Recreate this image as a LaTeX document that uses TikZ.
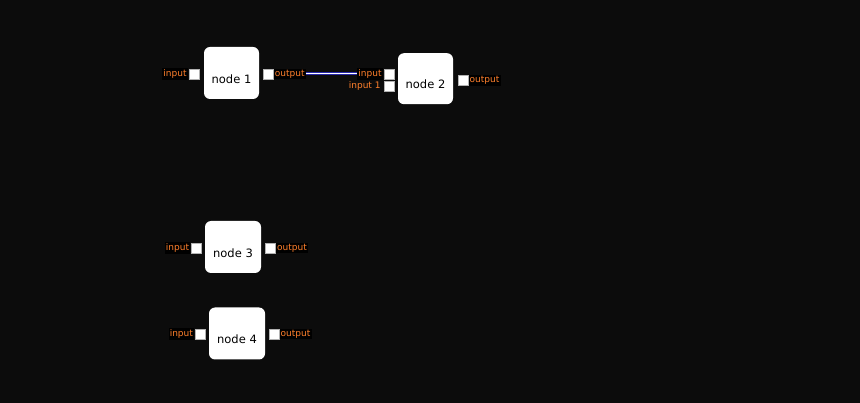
\documentclass[tikz,border=0pt]{standalone}
\usepackage{fontspec}
\setmainfont{DejaVu Sans}
\usepackage{tikz}

\definecolor{bgdark}{RGB}{12,12,12}
\definecolor{portlbl}{RGB}{255,128,44}
\definecolor{wireblue}{RGB}{40,40,170}

\begin{document}
\begin{tikzpicture}[x=1pt,y=-1pt,
    box/.style={fill=white,rounded corners=6pt,minimum width=55pt,minimum height=52pt,inner sep=0pt},
    port/.style={fill=white,draw=gray!60,line width=0.3pt,minimum size=10pt,inner sep=0pt},
    plabel/.style={fill=black,text=portlbl,font=\fontsize{9}{10}\selectfont,inner sep=1.2pt}]
    \useasboundingbox[fill=bgdark] (0,0) rectangle (860,403);

    % node 1
    \node[box,minimum width=55pt,label={[yshift=-6pt,font=\fontsize{11.5}{13}\selectfont]center:node 1}] (n1) at (231.5,73) {};
    \node[port] (n1in) at (193.7,74.3) {};
    \node[port] (n1out) at (268,74.3) {};
    \node[plabel,anchor=east] (n1inlbl) at (188,74) {input};
    \node[plabel,anchor=west] (n1outlbl) at (273.5,74) {output};

    % node 2
    \node[box,minimum height=51pt,label={[yshift=-6pt,font=\fontsize{11.5}{13}\selectfont]center:node 2}] (n2) at (425.5,78.7) {};
    \node[port] (n2in) at (389,74) {};
    \node[port] (n2inb) at (389,86.2) {};
    \node[port] (n2out) at (462.8,80.5) {};
    \node[plabel,anchor=east] (n2inlbl) at (383,74) {input};
    \node[plabel,anchor=east,fill=none] (n2inblbl) at (382,86.2) {input 1};
    \node[plabel,anchor=west] (n2outlbl) at (468.3,80.5) {output};

    % node 3
    \node[box,minimum width=56pt,label={[yshift=-6pt,font=\fontsize{11.5}{13}\selectfont]center:node 3}] (n3) at (233,247) {};
    \node[port] (n3in) at (196,248.3) {};
    \node[port] (n3out) at (270.3,248.3) {};
    \node[plabel,anchor=east] (n3inlbl) at (190.5,248) {input};
    \node[plabel,anchor=west] (n3outlbl) at (275.8,248) {output};

    % node 4
    \node[box,minimum width=56pt,label={[yshift=-6pt,font=\fontsize{11.5}{13}\selectfont]center:node 4}] (n4) at (237,333.5) {};
    \node[port] (n4in) at (199.7,334.2) {};
    \node[port] (n4out) at (273.8,334.2) {};
    \node[plabel,anchor=east] (n4inlbl) at (194.3,334) {input};
    \node[plabel,anchor=west] (n4outlbl) at (279.3,334) {output};

    % wire
    \draw[wireblue,line width=3pt] (n1outlbl.east) -- (n2inlbl.west);
    \draw[white,line width=1pt] (n1outlbl.east) -- (n2inlbl.west);
\end{tikzpicture}
\end{document}
